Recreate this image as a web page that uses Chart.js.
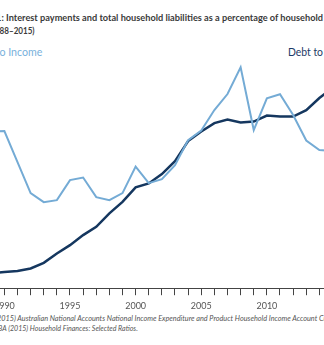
<!DOCTYPE html>
<html>
<head>
<meta charset="utf-8">
<script src="https://cdn.jsdelivr.net/npm/chart.js@4/dist/chart.umd.min.js"></script>
<style>
  html, body { margin: 0; padding: 0; background: #fff; }
  body { width: 324px; height: 345px; overflow: hidden; position: relative; font-family: Lato, "Open Sans", sans-serif; }
  #chart { position: absolute; left: -40px; top: 0; z-index: 2; }
  .ln { position: absolute; left: 0; white-space: nowrap; line-height: 1; transform-origin: 0 0; z-index: 1; }
  .title { font-size: 9.5px; font-weight: 700; color: #3a3a3a; }
  .lbl { font-size: 11px; }
  .src { font-size: 8px; font-style: italic; color: #555; }
</style>
</head>
<body>
<div class="ln title" id="t1" style="top:13.3px">Figure 1: <span class="m">Interest payments and total household liabilities as a percentage of household</span> disposable income</div>
<div class="ln title" id="t2" style="top:25.8px">(19<span class="m">88–2015)</span></div>
<div class="ln lbl" id="l1" style="top:46px;color:#78b1dc">Interest t<span class="m">o Income</span></div>
<div class="ln lbl" id="l2" style="top:46px;color:#1b3a66"><span class="m">Debt to</span> Income</div>
<div class="ln src" id="s1" style="top:314.3px">Source: ABS (2015) <span class="m">Australian National Accounts National Income Expenditure and Product Household Income Account</span> Current Prices;</div>
<div class="ln src" id="s2" style="top:323.8px">RBA (2015) <span class="m">Household Finances: Selected Ratios.</span></div>

<canvas id="chart" width="404" height="316"></canvas>

<script>
  // years 1988-2015
  var years = [1988, 1989, 1990, 1991, 1992, 1993, 1994, 1995, 1996, 1997, 1998, 1999, 2000, 2001,
    2002, 2003, 2004, 2005, 2006, 2007, 2008, 2009, 2010, 2011, 2012, 2013, 2014, 2015];
  // interest payments to income (%)
  var interestToIncome = [9.9, 10.83, 10.85, 9.3, 7.75, 7.3, 7.4, 8.4, 8.53, 7.55, 7.4, 7.75, 9.08, 8.25,
    8.45, 9.15, 10.4, 10.88, 11.9, 12.7, 14.04, 10.9, 12.49, 12.69, 11.65, 10.38, 9.9, 9.85];
  // household debt to income (%)
  var debtToIncome = [40.8, 41.5, 42.5, 43.3, 45.2, 49.5, 56.7, 63.1, 70.8, 77.2, 87.5, 96.4, 107.5, 110.5,
    117.7, 127.7, 143.1, 150.4, 156.9, 159.6, 157.3, 158.1, 162.7, 161.9, 161.9, 166.9, 176.2, 183.8];
  var labelYears = [1990, 1995, 2000, 2005, 2010];

  // squeeze each text line so its visible part spans the same width as in the picture
  function fit(id, x, w) {
    var line = document.getElementById(id), m = line.querySelector(".m");
    var s = w / m.getBoundingClientRect().width;
    line.style.transform = "scaleX(" + s + ")";
    line.style.left = (x - m.offsetLeft * s) + "px";
  }
  fit("t1", 6, 317);
  fit("t2", 0, 35);
  fit("l1", 0, 43);
  fit("l2", 288, 35);
  fit("s1", 16.7, 300);
  fit("s2", 30, 108);

  function pts(vals) {
    return years.map(function (y, i) { return { x: y, y: vals[i] }; });
  }

  new Chart(document.getElementById("chart"), {
    type: "line",
    data: {
      datasets: [
        { data: pts(interestToIncome), yAxisID: "yI", borderColor: "#74abd5", borderWidth: 2, pointRadius: 0 },
        { data: pts(debtToIncome), yAxisID: "yD", borderColor: "#15375f", borderWidth: 2.5, pointRadius: 0 }
      ]
    },
    options: {
      responsive: false, animation: false,
      layout: { padding: { top: 28 } },
      plugins: { legend: { display: false } },
      scales: {
        x: {
          type: "linear", min: 1986.65, max: 2017.4,
          grid: { color: "#444", drawOnChartArea: false, tickLength: 7 },
          border: { color: "#444", width: 1 },
          ticks: {
            stepSize: 1, includeBounds: false, autoSkip: false, maxRotation: 0, padding: 5,
            color: "#555", font: { family: "Lato", size: 9 },
            callback: function (v) { return labelYears.indexOf(v) >= 0 ? String(v) : ""; }
          }
        },
        yI: { display: false, min: 3, max: 16 },
        yD: { display: false, min: 30, max: 230 }
      }
    }
  });
</script>
</body>
</html>
